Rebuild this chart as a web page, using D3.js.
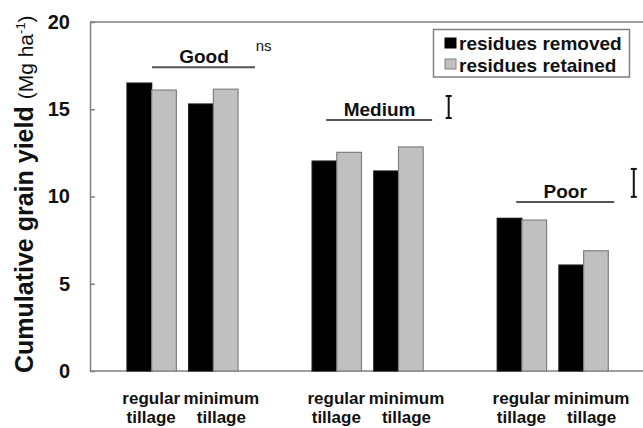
<!DOCTYPE html>
<html>
<head>
<meta charset="utf-8">
<script src="https://cdn.jsdelivr.net/npm/d3@7"></script>
<style>
  html, body { margin: 0; padding: 0; background: #fff; }
  svg { display: block; font-family: Arial, "Liberation Sans", sans-serif; }
</style>
</head>
<body>
<svg id="chart" width="643" height="428"></svg>
<script>
// Sites (soil productivity) and tillage systems
const sites = ["Good", "Medium", "Poor"];
const tillages = ["regular tillage", "minimum tillage"];
const series = ["residues removed", "residues retained"];

// Cumulative grain yield (Mg ha-1), ordered site by site, tillage within site
const removed  = [16.5, 15.3, 12.03, 11.46, 8.75, 6.07];
const retained = [16.1, 16.15, 12.53, 12.84, 8.65, 6.89];

// LSD per site (null = not significant)
const lsd = [null, 1.26, 1.6];
const lsdTop = [null, 15.76, 11.58];
// Height of the bracket line under each site label
const bracketLevel = [17.4, 14.38, 9.68];

const yTicks = [0, 5, 10, 15, 20];

const svg = d3.select("#chart");
const ink = "#000";
const axisGrey = "#808080";
const barGrey = "#c0c0c0";

// Layout
const plot = { left: 90, top: 22, bottom: 371, right: 700 };

const y = d3.scaleLinear().domain([0, 20]).range([plot.bottom, plot.top]);

// One slot per site x tillage, with an empty slot between sites
const slots = [];
sites.forEach((s, i) => {
  tillages.forEach(t => slots.push(s + "|" + t));
  if (i < sites.length - 1) slots.push("gap" + i);
});
const x = d3.scaleBand().domain(slots).range([127, 608.3]).paddingInner(0.2).paddingOuter(0);
const xs = d3.scaleBand().domain(series).range([0, x.bandwidth()]);

const rows = [];
sites.forEach((s, i) => tillages.forEach((t, j) => {
  const k = i * tillages.length + j;
  rows.push({ site: s, tillage: t, key: s + "|" + t, values: [removed[k], retained[k]] });
}));

// Plot frame (right edge runs past the canvas)
const frame = svg.append("g").attr("stroke", axisGrey).attr("stroke-width", 1.5).attr("fill", "none");
frame.append("line").attr("x1", plot.left).attr("x2", plot.right).attr("y1", plot.top).attr("y2", plot.top);
frame.append("line").attr("x1", plot.left).attr("x2", plot.right).attr("y1", plot.bottom).attr("y2", plot.bottom);

// Bars
const barG = svg.append("g");
rows.forEach(r => {
  series.forEach((s, si) => {
    barG.append("rect")
      .attr("x", x(r.key) + xs(s))
      .attr("y", y(r.values[si]))
      .attr("width", xs.bandwidth())
      .attr("height", y(0) - y(r.values[si]))
      .attr("fill", si === 0 ? ink : barGrey)
      .attr("stroke", si === 0 ? "#111" : axisGrey)
      .attr("stroke-width", 1.2);
  });
});

// Y axis with inward ticks
const yAxis = d3.axisLeft(y).tickValues(yTicks).tickSizeInner(-5).tickSizeOuter(0).tickPadding(20);
const yG = svg.append("g").attr("transform", `translate(${plot.left},0)`).call(yAxis);
yG.select(".domain").attr("stroke", axisGrey).attr("stroke-width", 1.5);
yG.selectAll(".tick line").attr("stroke", axisGrey).attr("stroke-width", 1.5);
yG.selectAll(".tick text")
  .attr("fill", "#111").attr("font-size", 20).attr("font-weight", "bold")
  .attr("font-family", "Arial, 'Liberation Sans', sans-serif");

// Y axis title
const yTitle = svg.append("text")
  .attr("transform", "translate(33,373) rotate(-90)")
  .attr("text-anchor", "start").attr("fill", "#111");
yTitle.append("tspan").attr("font-size", 25).attr("font-weight", "bold").text("Cumulative grain yield ");
yTitle.append("tspan").attr("font-size", 21).text("(Mg ha");
yTitle.append("tspan").attr("font-size", 13).attr("dy", -8).text("-1");
yTitle.append("tspan").attr("font-size", 21).attr("dy", 8).text(")");

// Category labels (two lines each)
const labelShift = { "regular tillage": -0.5, "minimum tillage": 8 };
rows.forEach(r => {
  const cx = x(r.key) + x.bandwidth() / 2 + labelShift[r.tillage];
  const words = r.tillage.split(" ");
  const t = svg.append("text").attr("text-anchor", "middle")
    .attr("font-size", 17).attr("font-weight", "bold").attr("fill", "#111");
  t.append("tspan").attr("x", cx).attr("y", 404).text(words[0]);
  t.append("tspan").attr("x", cx).attr("y", 423).text(words[1]);
});

// Site labels with bracket lines, offsets measured from each site's first bar
const siteLayout = {
  Good:   { from: 25, to: 128, mid: 77 },
  Medium: { from: 14, to: 120, mid: 67.5 },
  Poor:   { from: 19, to: 117, mid: 68 }
};
sites.forEach((s, i) => {
  const x0 = x(s + "|" + tillages[0]);
  const x1 = x(s + "|" + tillages[tillages.length - 1]) + x.bandwidth();
  const L = siteLayout[s];
  const ly = y(bracketLevel[i]);
  svg.append("line")
    .attr("x1", x0 + L.from).attr("x2", x0 + L.to)
    .attr("y1", ly).attr("y2", ly)
    .attr("stroke", "#555").attr("stroke-width", 2);
  svg.append("text")
    .attr("x", x0 + L.mid).attr("y", ly - 4)
    .attr("text-anchor", "middle").attr("font-size", 19).attr("font-weight", "bold").attr("fill", "#111")
    .text(s);

  // Significance marker to the right of each site
  const mx = x1 + 25.5;
  if (lsd[i] == null) {
    svg.append("text").attr("x", mx).attr("y", 50.5)
      .attr("text-anchor", "middle").attr("font-size", 15).attr("fill", "#111").text("ns");
  } else {
    const yt = y(lsdTop[i]), yb = y(lsdTop[i] - lsd[i]);
    const g = svg.append("g").attr("stroke", "#111").attr("stroke-width", 2);
    g.append("line").attr("x1", mx).attr("x2", mx).attr("y1", yt).attr("y2", yb);
    g.append("line").attr("x1", mx - 3).attr("x2", mx + 3).attr("y1", yt).attr("y2", yt);
    g.append("line").attr("x1", mx - 3).attr("x2", mx + 3).attr("y1", yb).attr("y2", yb);
  }
});

// Legend
const legend = svg.append("g");
legend.append("rect").attr("x", 433.5).attr("y", 29.5).attr("width", 196).attr("height", 47.5)
  .attr("fill", "#fff").attr("stroke", axisGrey).attr("stroke-width", 1.5);
series.forEach((s, i) => {
  const ry = 38 + i * 21;
  legend.append("rect").attr("x", 445).attr("y", ry).attr("width", 11).attr("height", 10)
    .attr("fill", i === 0 ? ink : barGrey).attr("stroke", i === 0 ? ink : axisGrey).attr("stroke-width", 1);
  legend.append("text").attr("x", 459).attr("y", 50 + i * 22)
    .attr("font-size", 19).attr("font-weight", "bold").attr("fill", "#111").text(s);
});
</script>
</body>
</html>
